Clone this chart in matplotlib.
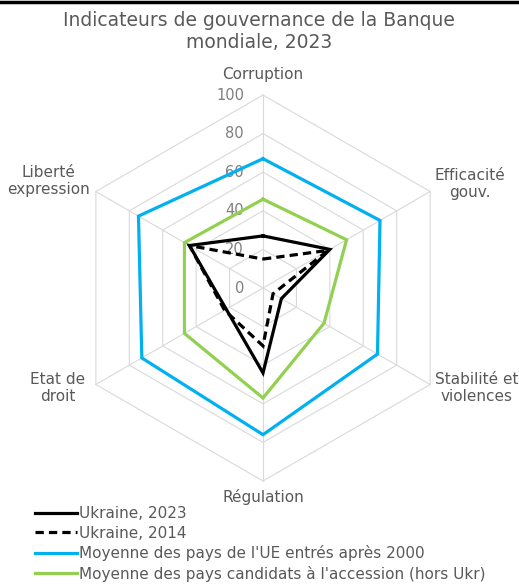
import numpy as np
import matplotlib
matplotlib.use("Agg")
import matplotlib.pyplot as plt
from matplotlib.lines import Line2D

plt.rcParams['font.family'] = ['DejaVu Sans']

# axes, clockwise from the top
categories = ["Corruption", "Efficacité\ngouv.", "Stabilité et\nviolences",
              "Régulation", "Etat de\ndroit", "Liberté\nexpression"]
ukr_2023 = [27, 40, 11, 44, 22, 44]
ukr_2014 = [15, 39, 6, 30, 23, 44]
ue_2000 = [67, 70, 68.5, 76, 72.5, 74.5]
candidats = [46, 50, 36.5, 57, 47, 47]
rticks = [0, 20, 40, 60, 80, 100]

GREY = '#595959'
W, H = 519, 584
cx, cy = 263, 288          # centre in pixels (from top)
scale = 1.93               # pixels per unit

fig = plt.figure(figsize=(W / 100, H / 100), dpi=100)
ax = fig.add_axes([0, 0, 1, 1])
ax.set_xlim(-cx / scale, (W - cx) / scale)
ax.set_ylim(-(H - cy) / scale, cy / scale)
ax.axis('off')

n = len(categories)
ang = np.pi / 2 - np.arange(n) * 2 * np.pi / n

def xy(vals):
    v = np.array(vals, dtype=float)
    x = v * np.cos(ang)
    y = v * np.sin(ang)
    return np.append(x, x[0]), np.append(y, y[0])

# hexagonal grid + spokes
for r in rticks[1:]:
    gx, gy = xy([r] * n)
    ax.plot(gx, gy, color='#d9d9d9', lw=0.8, zorder=1)
for a in ang:
    ax.plot([0, 100 * np.cos(a)], [0, 100 * np.sin(a)], color='#d9d9d9', lw=0.8, zorder=1)

# radial tick labels
for r in rticks:
    ax.text(-19 / scale, r, str(r), ha='right', va='center', fontsize=10.5,
            color='#7f7f7f', zorder=2)

series = [
    (ue_2000, "Moyenne des pays de l'UE entrés après 2000", '#00b0f0', '-'),
    (candidats, "Moyenne des pays candidats à l'accession (hors Ukr)", '#92d050', '-'),
    (ukr_2014, "Ukraine, 2014", 'black', (0, (2.6, 1.6))),
    (ukr_2023, "Ukraine, 2023", 'black', '-'),
]
handles = {}
for vals, lab, col, ls in series:
    sx, sy = xy(vals)
    ln, = ax.plot(sx, sy, color=col, lw=2.3, ls=ls, label=lab, zorder=3,
                  solid_joinstyle='miter', dash_joinstyle='miter')
    handles[lab] = ln

# category labels (pixel positions)
lab_pos = [(263, 75), (470, 184), (477, 388), (263, 497), (58, 388), (48, 181)]
for txt, (px, py) in zip(categories, lab_pos):
    fig.text(px / W, 1 - py / H, txt, ha='center', va='center', fontsize=11,
             color=GREY, linespacing=1.2)

fig.text(259 / W, 1 - 32 / H, "Indicateurs de gouvernance de la Banque\nmondiale, 2023",
         ha='center', va='center', fontsize=13.5, color=GREY, linespacing=1.2)

order = ["Ukraine, 2023", "Ukraine, 2014",
         "Moyenne des pays de l'UE entrés après 2000",
         "Moyenne des pays candidats à l'accession (hors Ukr)"]
leg = fig.legend([handles[k] for k in order], order, loc='upper left',
                 bbox_to_anchor=(35 / W, 1 - 506 / H), frameon=False, fontsize=11,
                 handlelength=2.75, handletextpad=0.12, labelspacing=0.3,
                 borderpad=0, borderaxespad=0)
for t in leg.get_texts():
    t.set_color(GREY)

# black rule along the top edge
fig.add_artist(Line2D([0, 1], [1 - 1.5 / H, 1 - 1.5 / H], color='black', lw=2.5,
                      transform=fig.transFigure))

fig.savefig("out.png", dpi=100)
